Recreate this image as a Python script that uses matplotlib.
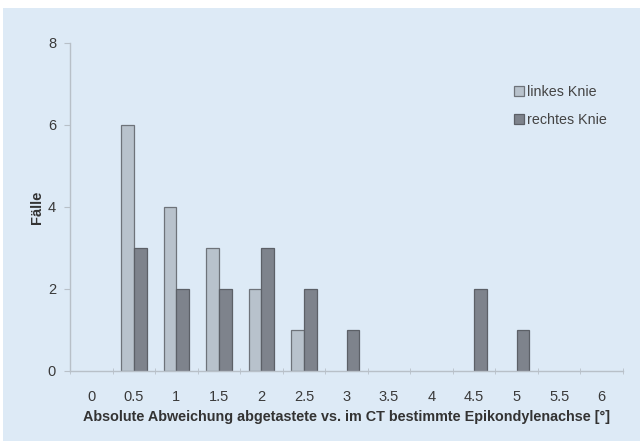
import numpy as np
import matplotlib
matplotlib.use('Agg')
import matplotlib.pyplot as plt
from matplotlib.patches import Rectangle

plt.rcParams['font.family'] = ['Liberation Sans', 'DejaVu Sans']

categories = ['0', '0.5', '1', '1.5', '2', '2.5', '3', '3.5', '4', '4.5', '5', '5.5', '6']
links = [0, 6, 4, 3, 2, 1, 0, 0, 0, 0, 0, 0, 0]
rechts = [0, 3, 2, 2, 3, 2, 1, 0, 0, 2, 1, 0, 0]

bg = '#ddeaf6'
fig = plt.figure(figsize=(6.4, 4.41), dpi=100)
fig.patch.set_facecolor('white')
fig.patches.append(Rectangle((3 / 640, 0), 1, 433 / 441, transform=fig.transFigure,
                             facecolor=bg, edgecolor='none', zorder=-10))

ax = fig.add_axes([70 / 640, (441 - 371) / 441, 553 / 640, 328 / 441])
ax.set_facecolor(bg)

x = np.arange(len(categories))
w = 0.3
# leere Klassen nicht zeichnen
l_h = np.where(np.array(links) > 0, links, np.nan)
r_h = np.where(np.array(rechts) > 0, rechts, np.nan)
ax.bar(x - w / 2, l_h, w, color='#b8c2cc', edgecolor='#6e737a', linewidth=0.9,
       label='linkes Knie')
ax.bar(x + w / 2, r_h, w, color='#7e838c', edgecolor='#5c6067', linewidth=0.9,
       label='rechtes Knie')

ax.set_xlim(-0.5, len(categories) - 0.5)
ax.set_ylim(0, 8)
ax.set_yticks([0, 2, 4, 6, 8])
ax.set_xticks(x)
ax.set_xticklabels(categories)
ax.set_xticks(np.arange(-0.5, len(categories), 1), minor=True)
ax.tick_params(axis='x', which='major', length=0, pad=14, labelsize=10.5, labelcolor='#3a3a3a')
ax.tick_params(axis='x', which='minor', length=4, color='#b8c0c8', direction='inout')
ax.tick_params(axis='y', length=4, color='#b8c0c8', labelsize=10.5, labelcolor='#3a3a3a', pad=6)

for s in ['top', 'right']:
    ax.spines[s].set_visible(False)
for s in ['left', 'bottom']:
    ax.spines[s].set_color('#b8c0c8')
    ax.spines[s].set_linewidth(1.0)

ax.set_xlabel('Absolute Abweichung abgetastete vs. im CT bestimmte Epikondylenachse [°]',
              fontsize=10.4, fontweight='bold', color='#333333', labelpad=4)
ax.set_ylabel('Fälle', fontsize=10.5, fontweight='bold', color='#333333')
ax.yaxis.set_label_coords(-0.047, 0.5)

ax.legend(loc='upper left', bbox_to_anchor=(0.78, 0.91), frameon=False, fontsize=10.3,
          handlelength=0.7, handleheight=0.7, handletextpad=0.2, labelspacing=0.95,
          labelcolor='#444444')

fig.savefig('out.png', dpi=100, facecolor=fig.get_facecolor())
